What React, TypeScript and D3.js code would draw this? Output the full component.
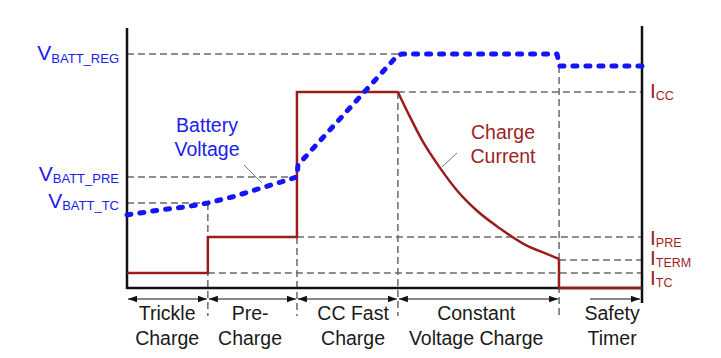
import React from "react";
import * as d3 from "d3";

// Time axis in arbitrary units (0..100), value axis in arbitrary units (0..100)
const phaseBounds = [0, 15.7, 33.0, 52.6, 83.9, 100];
const phaseLabels = [
  ["Trickle", "Charge"],
  ["Pre-", "Charge"],
  ["CC Fast", "Charge"],
  ["Constant", "Voltage Charge"],
  ["Safety", "Timer"],
];
const phaseLabelT = [7.8, 23.9, 43.9, 67.8, 94.2];

const vLevelNames = ["BATT_REG", "BATT_PRE", "BATT_TC"];
const vLevelValues = [90, 42.7, 32.7];
const vLevelEnds = [53, 33.0, 15.7];

const iLevelNames = ["CC", "PRE", "TERM", "TC"];
const iLevelValues = [75.4, 19.6, 10.8, 5.8];
const iLevelStarts = [52.6, 33.0, 83.9, 15.7];

// Battery voltage (time, value)
const voltT = [0, 6.4, 11.65, 15.7, 20.6, 25.8, 31.1, 33.0, 33.2, 52.6, 53.4, 83.5, 84.0, 100];
const voltV = [28.1, 30, 31.3, 32.7, 35.1, 38.3, 41.5, 42.7, 47.3, 89.6, 90, 90, 85.4, 85.4];

// Charge current: step part
const currStepT = [0, 15.7, 15.7, 33.0, 33.0, 52.6];
const currStepV = [5.8, 5.8, 19.6, 19.6, 75.4, 75.4];
// Charge current: constant-voltage decay part
const currDecayT = [52.6, 54.95, 57.48, 60.78, 64.0, 67.9, 72.43, 76.9, 81.5, 83.88];
const currDecayV = [75.4, 65.8, 56.2, 46.2, 37.7, 29.8, 22.9, 17.1, 13.1, 11.2];
// Charge current: termination
const currEndT = [83.88, 83.88, 100];
const currEndV = [11.2, 0, 0];

const W = 721;
const H = 358;
const BLUE = "#1414ff";
const BLUE_TXT = "#2020ee";
const RED = "#9b1c1c";
const RED_TXT = "#9e1f1f";
const GRAY = "#6a6a6a";
const FONT = "'Liberation Sans', Arial, sans-serif";

export default function App() {
  const x = d3.scaleLinear().domain([0, 100]).range([127, 642]);
  const y = d3.scaleLinear().domain([0, 100]).range([288, 28]);

  const lineGen = d3
    .line<[number, number]>()
    .x((d) => x(d[0]))
    .y((d) => y(d[1]));
  const curveGen = d3
    .line<[number, number]>()
    .x((d) => x(d[0]))
    .y((d) => y(d[1]))
    .curve(d3.curveMonotoneX);

  const zip = (a: number[], b: number[]) => a.map((t, i) => [t, b[i]] as [number, number]);

  const voltPath = lineGen(zip(voltT, voltV)) || "";
  const stepPath = lineGen(zip(currStepT, currStepV)) || "";
  const decayPath = curveGen(zip(currDecayT, currDecayV)) || "";
  const endPath = lineGen(zip(currEndT, currEndV)) || "";

  const dash = "7,4";
  const vertTops = [32.7, 19.6, 75.4, 85.4];
  const vertT = [phaseBounds[1], phaseBounds[2], phaseBounds[3], phaseBounds[4]];
  const vertBottom = 316;
  const arrowY = 299;

  const vOffsets = [6, 4, 5];
  const iOffsets = [6, 8, 5, 12];

  return (
    <svg
      width={W}
      height={H}
      style={{ position: "absolute", left: 0, top: 0, background: "#fff" }}
      fontFamily={FONT}
    >
      <defs>
        <marker
          id="ah"
          markerUnits="userSpaceOnUse"
          markerWidth={10}
          markerHeight={8}
          refX={9}
          refY={4}
          orient="auto-start-reverse"
          viewBox="0 0 10 8"
        >
          <path d="M0,0.8 L9,4 L0,7.2 Z" fill="#111" />
        </marker>
      </defs>
      <rect x={0} y={0} width={W} height={H} fill="#fff" />

      {/* horizontal dashed voltage levels */}
      {vLevelValues.map((v, i) => (
        <line
          key={"vl" + i}
          x1={x(0)}
          x2={x(vLevelEnds[i])}
          y1={y(v)}
          y2={y(v)}
          stroke={GRAY}
          strokeWidth={1.5}
          strokeDasharray={dash}
        />
      ))}
      {/* horizontal dashed current levels */}
      {iLevelValues.map((v, i) => (
        <line
          key={"il" + i}
          x1={x(iLevelStarts[i])}
          x2={x(100)}
          y1={y(v)}
          y2={y(v)}
          stroke={GRAY}
          strokeWidth={1.5}
          strokeDasharray={dash}
        />
      ))}
      {/* vertical dashed phase boundaries */}
      {vertT.map((t, i) => (
        <line
          key={"vt" + i}
          x1={x(t)}
          x2={x(t)}
          y1={y(vertTops[i])}
          y2={vertBottom}
          stroke={GRAY}
          strokeWidth={1.5}
          strokeDasharray={dash}
        />
      ))}

      {/* axes */}
      <line x1={x(0)} x2={x(0)} y1={y(100)} y2={y(0) + 1} stroke="#111" strokeWidth={2.5} />
      <line x1={x(0)} x2={x(100)} y1={y(0)} y2={y(0)} stroke="#111" strokeWidth={2.5} />
      <line x1={x(100)} x2={x(100)} y1={y(100) - 2} y2={303} stroke="#111" strokeWidth={2.5} />

      {/* current */}
      <path d={stepPath} fill="none" stroke={RED} strokeWidth={2.5} strokeLinejoin="miter" />
      <path d={decayPath} fill="none" stroke={RED} strokeWidth={2.5} />
      <path d={endPath} fill="none" stroke={RED} strokeWidth={2.5} />

      {/* voltage */}
      <path
        d={voltPath}
        fill="none"
        stroke={BLUE}
        strokeWidth={5}
        strokeDasharray="4,9"
        strokeLinecap="round"
        strokeLinejoin="round"
      />

      {/* phase arrows */}
      {phaseBounds.slice(0, 4).map((t, i) => (
        <line
          key={"ar" + i}
          x1={x(t) + 1}
          x2={x(phaseBounds[i + 1]) - 1}
          y1={arrowY}
          y2={arrowY}
          stroke="#111"
          strokeWidth={1}
          markerStart="url(#ah)"
          markerEnd="url(#ah)"
        />
      ))}
      <line
        x1={590}
        x2={x(100) - 2}
        y1={arrowY}
        y2={arrowY}
        stroke="#111"
        strokeWidth={1}
        markerEnd="url(#ah)"
      />

      {/* phase labels */}
      {phaseLabels.map((lbl, i) => (
        <g key={"pl" + i} fill="#1a1a1a" fontSize={19.5} textAnchor="middle">
          <text x={x(phaseLabelT[i])} y={320}>
            {lbl[0]}
          </text>
          <text x={x(phaseLabelT[i])} y={345}>
            {lbl[1]}
          </text>
        </g>
      ))}

      {/* voltage level labels */}
      {vLevelNames.map((n, i) => (
        <text
          key={"vn" + i}
          x={119}
          y={y(vLevelValues[i]) + vOffsets[i]}
          textAnchor="end"
          fill={BLUE_TXT}
          fontSize={21}
        >
          V<tspan fontSize={13} dy={2.5}>{n}</tspan>
        </text>
      ))}

      {/* current level labels */}
      {iLevelNames.map((n, i) => (
        <text
          key={"in" + i}
          x={650}
          y={y(iLevelValues[i]) + iOffsets[i]}
          fill={RED_TXT}
          fontSize={21}
        >
          I<tspan fontSize={12.5} dy={2}>{n}</tspan>
        </text>
      ))}

      {/* series annotations */}
      <g fill={BLUE_TXT} fontSize={19.5} textAnchor="middle">
        <text x={207} y={132}>Battery</text>
        <text x={207} y={156}>Voltage</text>
      </g>
      <line x1={244} y1={165} x2={262} y2={183} stroke="#777" strokeWidth={1} />
      <g fill={RED_TXT} fontSize={19.5} textAnchor="middle">
        <text x={503} y={139}>Charge</text>
        <text x={503} y={163}>Current</text>
      </g>
      <line x1={457} y1={153} x2={442} y2={167} stroke="#777" strokeWidth={1} />
    </svg>
  );
}
